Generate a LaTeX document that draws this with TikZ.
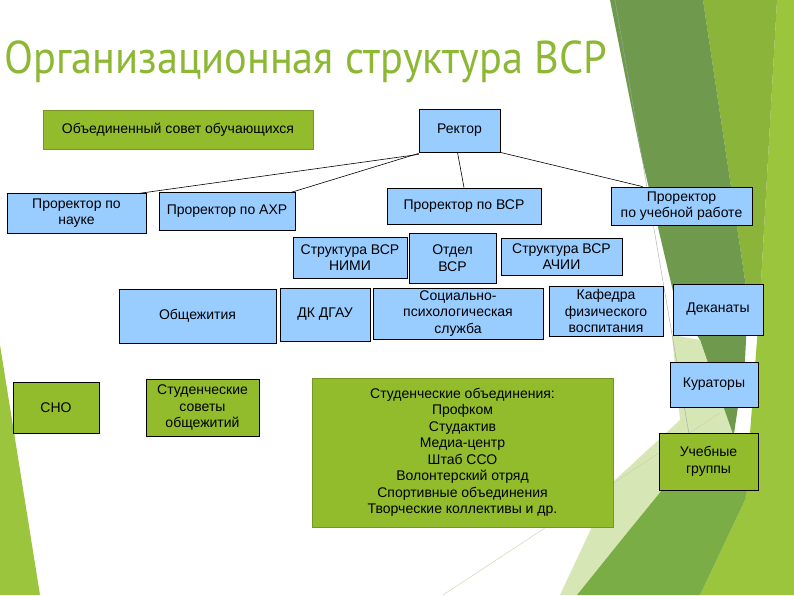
\documentclass[tikz,border=0pt]{standalone}
\usepackage{fontspec}
\newfontfamily\boxfont{Liberation Sans}
\newfontfamily\titlefont[FakeStretch=0.92]{PT Sans}
\usetikzlibrary{positioning}

\definecolor{boxblue}{RGB}{153,204,255}
\definecolor{boxgreen}{RGB}{146,188,44}
\definecolor{greenedge}{RGB}{118,150,38}
\definecolor{titlegreen}{RGB}{140,184,52}
\definecolor{bgdark}{RGB}{111,154,77}
\definecolor{bgmid}{RGB}{139,180,58}
\definecolor{bglight}{RGB}{155,197,61}
\definecolor{bglow}{RGB}{122,173,70}
\definecolor{bgpale}{RGB}{214,230,180}

\begin{document}
\begin{tikzpicture}[
    x=1pt, y=-1pt,
    every node/.style={font=\boxfont\fontsize{14}{16.5}\selectfont},
    unit/.style={
        rectangle, draw=black, line width=0.8pt,
        align=center, inner sep=2pt
    },
    blueunit/.style={unit, fill=boxblue},
    greenunit/.style={unit, fill=boxgreen},
    councilunit/.style={unit, fill=boxgreen, draw=greenedge},
    link/.style={line width=0.6pt}
]

\useasboundingbox (0,0) rectangle (794,595);

% --- Background ---
\fill[white] (0,0) rectangle (794,595);
\fill[bglight] (0,345) -- (40,595) -- (0,595) -- cycle;
\fill[bglight] (777,0) -- (794,0) -- (794,595) -- (700,595) -- (745,500) -- (760,300) -- cycle;
\fill[bgmid] (703,0) -- (777,0) -- (760,300) -- (748,300) -- cycle;
\fill[bgdark] (610,0) -- (703,0) -- (748,300) -- (745,360) -- (733,440)
    -- (700,340) -- (675,300) -- (640,150) -- cycle;
\fill[bgpale] (560,595) -- (577,595) -- (662,490) -- (735,440) -- (700,340)
    -- (672,335) -- (680,420) -- (613,482) -- cycle;
\fill[bglow] (577,595) -- (627,533) -- (662,490) -- (700,455) -- (735,440)
    -- (750,470) -- (745,500) -- (700,595) -- cycle;
\draw[gray!70, line width=0.4pt] (615,0) -- (690,440);
\draw[bgpale!80!gray, line width=0.4pt] (443,595) -- (720,413);

% --- Title ---
\node[anchor=base west, inner sep=0pt, text=titlegreen,
      font=\titlefont\fontsize{46}{50}\selectfont] (title) at (4,73)
    {Организационная структура ВСР};

% --- Top level ---
\node[councilunit, minimum width=270, minimum height=39] (council) at (178,129.5) {Объединенный совет обучающихся};
\node[blueunit, minimum width=81, minimum height=43] (rector) at (459.5,130.5) {Ректор};

% --- Vice-rectors ---
\node[blueunit, minimum width=139, minimum height=40] (science) at (76.5,213) {Проректор по\\науке};
\node[blueunit, minimum width=136, minimum height=38] (ahr) at (227,211) {Проректор по АХР};
\node[blueunit, minimum width=154, minimum height=36] (vsr) at (464,206) {Проректор по ВСР};
\node[blueunit, minimum width=141, minimum height=38] (study) at (681.5,206) {Проректор\\по учебной работе};

% --- Units ---
\node[blueunit, minimum width=114, minimum height=41] (nimi) at (350,257.5) {Структура ВСР\\НИМИ};
\node[blueunit, minimum width=87, minimum height=50] (dept) at (452.5,258) {Отдел\\ВСР};
\node[blueunit, minimum width=121, minimum height=37] (achii) at (561.5,256.5) {Структура ВСР\\АЧИИ};
\node[blueunit, minimum width=157, minimum height=54] (dorms) at (197.5,316) {Общежития};
\node[blueunit, minimum width=90, minimum height=53] (dk) at (325,314.5) {ДК ДГАУ};
\node[blueunit, minimum width=170, minimum height=51] (psych) at (458,313.5) {Социально-\\психологическая\\служба};
\node[blueunit, minimum width=114, minimum height=50] (pe) at (606,311) {Кафедра\\физического\\воспитания};
\node[blueunit, minimum width=90, minimum height=51] (deans) at (718,309.5) {Деканаты};
\node[blueunit, minimum width=88, minimum height=45] (curators) at (714,384.5) {Кураторы};

% --- Student bodies ---
\node[greenunit, minimum width=86, minimum height=51] (sno) at (56,407.5) {СНО};
\node[greenunit, minimum width=113, minimum height=57] (dormcouncils) at (202.5,407.5) {Студенческие\\советы\\общежитий};
\node[councilunit, minimum width=301, minimum height=149] (clubs) at (462.5,452.5)
    {Студенческие объединения:\\Профком\\Студактив\\Медиа-центр\\Штаб ССО\\Волонтерский отряд\\Спортивные объединения\\Творческие коллективы и др.};
\node[greenunit, minimum width=99, minimum height=57] (groups) at (708.5,461.5) {Учебные\\группы};

% --- Links ---
\draw[link] ([yshift=-2pt]rector.south west) -- ([xshift=-9pt,yshift=-1pt]science.north east);
\draw[link] ([yshift=-1pt]rector.south west) -- ([xshift=-5pt,yshift=-1pt]ahr.north east);
\draw[link] ([xshift=-2pt]rector.south) -- (vsr.north);
\draw[link] (rector.south east) -- ([xshift=32pt]study.north west);

\end{tikzpicture}
\end{document}
